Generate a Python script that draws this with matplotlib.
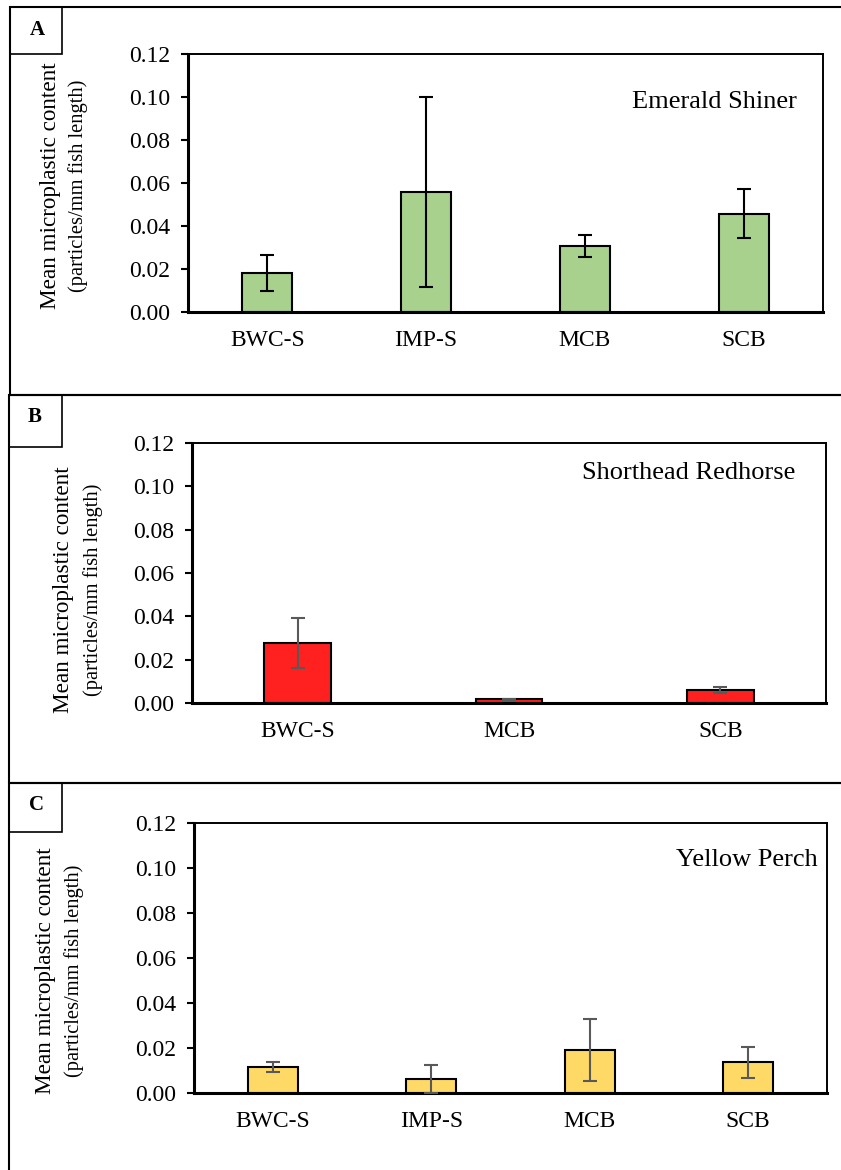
import numpy as np
import matplotlib
matplotlib.use("Agg")
import matplotlib.pyplot as plt
from matplotlib.patches import Rectangle

plt.rcParams['font.family'] = ['Liberation Serif', 'DejaVu Serif']

# data
sites_a = ['BWC-S', 'IMP-S', 'MCB', 'SCB']
mean_a = [0.0181, 0.0558, 0.0307, 0.0456]
err_a = [0.0084, 0.0444, 0.0050, 0.0114]

sites_b = ['BWC-S', 'MCB', 'SCB']
mean_b = [0.0277, 0.0017, 0.0060]
err_b = [0.0115, 0.0003, 0.0015]

sites_c = ['BWC-S', 'IMP-S', 'MCB', 'SCB']
mean_c = [0.0116, 0.0062, 0.0193, 0.0136]
err_c = [0.0022, 0.0062, 0.0138, 0.0069]

yticks = [0.00, 0.02, 0.04, 0.06, 0.08, 0.10, 0.12]

W, H = 841, 1170
fig = plt.figure(figsize=(W / 100, H / 100), dpi=100)


def fx(x):
    return x / W


def fy(y):
    return 1 - y / H


def panel(box, tag, tag_box, tag_xy, ax_rect, sites, means, errs, color, ecolor,
          species, sp_xy, ylab_x, ylab_y):
    # outer panel frame
    x0, y0, x1, y1 = box
    fig.patches.append(Rectangle((fx(x0), fy(y1)), fx(x1 - x0), (y1 - y0) / H,
                                 transform=fig.transFigure, fill=False,
                                 lw=1.5, ec='black'))
    tx0, ty0, tx1, ty1 = tag_box
    fig.patches.append(Rectangle((fx(tx0), fy(ty1)), fx(tx1 - tx0), (ty1 - ty0) / H,
                                 transform=fig.transFigure, fill=False,
                                 lw=1.2, ec='black'))
    fig.text(fx(tag_xy[0]), fy(tag_xy[1]), tag, ha='center', va='center',
             fontsize=15, fontweight='bold')

    left, top, width, bottom = ax_rect
    ax = fig.add_axes([fx(left), fy(bottom), fx(width), (bottom - top) / H])
    pos = np.arange(len(sites))
    ax.bar(pos, means, width=0.315, color=color, edgecolor='black', lw=1.5, zorder=2)
    ax.errorbar(pos, means, yerr=errs, fmt='none', ecolor=ecolor, elinewidth=1.5,
                capsize=5, capthick=1.5, zorder=3)
    ax.set_xlim(-0.5, len(sites) - 0.5)
    ax.set_ylim(0, 0.12)
    ax.set_yticks(yticks)
    ax.set_yticklabels(['%.2f' % v for v in yticks])
    ax.set_xticks(pos)
    ax.set_xticklabels(sites)
    ax.tick_params(axis='y', length=5, width=1.5, labelsize=17, pad=8)
    ax.tick_params(axis='x', length=0, labelsize=17, pad=13)
    for s in ['left', 'bottom']:
        ax.spines[s].set_linewidth(2.2)
    for s in ['top', 'right']:
        ax.spines[s].set_linewidth(1.4)
    ax.text(sp_xy[0], sp_xy[1], species, transform=ax.transAxes, ha='right',
            va='center', fontsize=19)

    fig.text(fx(ylab_x[0]), fy(ylab_y), 'Mean microplastic content', rotation=90,
             ha='center', va='center', fontsize=16.7)
    fig.text(fx(ylab_x[1]), fy(ylab_y), '(particles/mm fish length)', rotation=90,
             ha='center', va='center', fontsize=14.8)
    return ax


panel((10, 7, 900, 395), 'A', (10, 7, 62, 54), (37, 30),
      (188, 54, 635, 312), sites_a, mean_a, err_a, '#A9D18E', 'black',
      'Emerald Shiner', (0.959, 0.814), (51, 78), 186)

panel((9, 395, 900, 783), 'B', (9, 395, 62, 447), (35, 417),
      (192, 443, 634, 703), sites_b, mean_b, err_b, '#FF2020', '#595959',
      'Shorthead Redhorse', (0.951, 0.885), (64, 93), 590)

panel((9, 783, 900, 1250), 'C', (9, 783, 62, 832), (36, 805),
      (194, 823, 633, 1093), sites_c, mean_c, err_c, '#FFD966', '#595959',
      'Yellow Perch', (0.986, 0.863), (46, 74), 971)

fig.savefig('out.png', dpi=100)
